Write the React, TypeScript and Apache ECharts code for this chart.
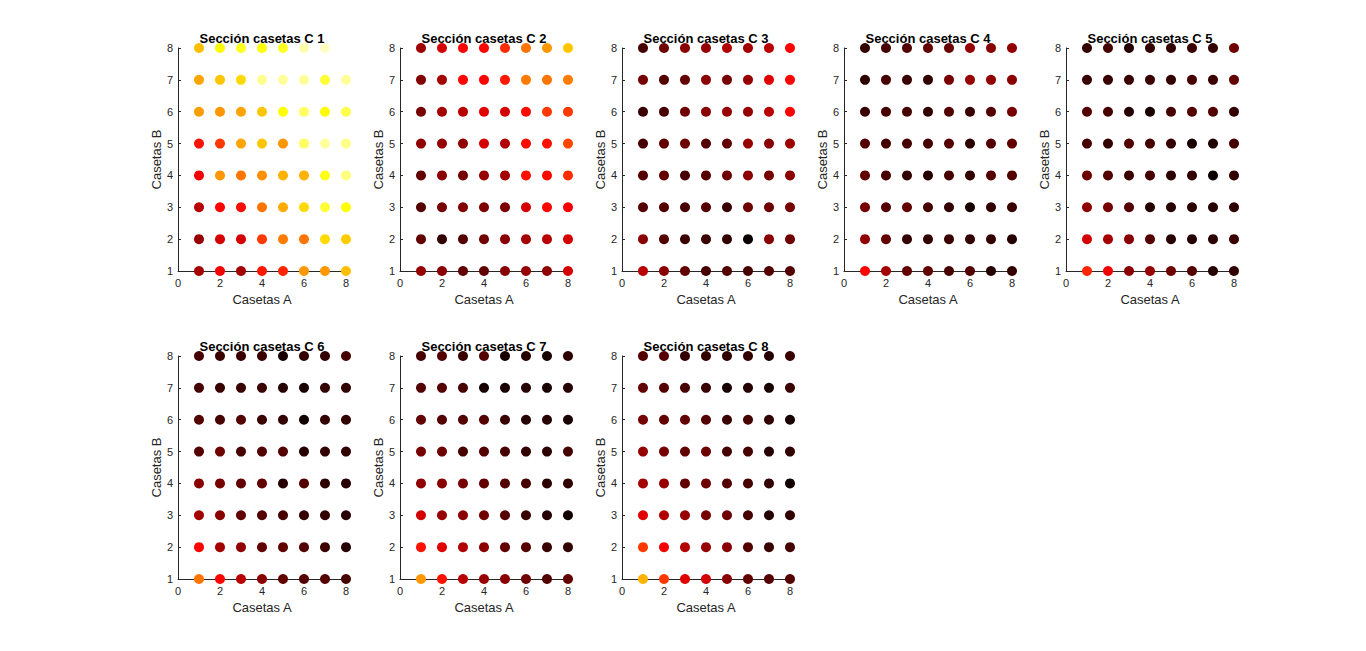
import React, { useEffect, useRef } from "react";
import * as echarts from "echarts";

// Values on a 0–100 scale mapped through the "hot" colormap.
// Each section: rows from Casetas B = 8 (top) down to 1, columns Casetas A = 1..8.
const casetasA = [1, 2, 3, 4, 5, 6, 7, 8];
const casetasB = [8, 7, 6, 5, 4, 3, 2, 1];

const seccion1 = [
  [65, 74, 78, 75, 78, 92, 94, 100],
  [61, 66, 69, 89, 90, 90, 80, 90],
  [60, 59, 61, 66, 75, 84, 74, 82],
  [39, 45, 61, 66, 59, 84, 90, 88],
  [35, 59, 54, 58, 63, 63, 77, 87],
  [26, 37, 38, 54, 62, 69, 80, 75],
  [21, 30, 30, 45, 55, 54, 69, 67],
  [23, 35, 23, 40, 42, 59, 59, 65],
];
const seccion2 = [
  [22, 30, 37, 37, 43, 54, 59, 66],
  [18, 23, 37, 37, 40, 55, 54, 55],
  [16, 23, 26, 32, 30, 38, 45, 45],
  [20, 21, 20, 30, 25, 38, 39, 47],
  [13, 19, 16, 21, 23, 39, 38, 43],
  [11, 16, 18, 17, 17, 30, 37, 35],
  [13, 6, 11, 15, 19, 23, 26, 30],
  [21, 19, 13, 13, 19, 21, 20, 30],
];
const seccion3 = [
  [9, 15, 19, 21, 25, 23, 26, 37],
  [16, 11, 13, 19, 16, 21, 32, 37],
  [7, 9, 15, 19, 21, 21, 26, 37],
  [9, 13, 15, 11, 13, 21, 19, 22],
  [11, 13, 9, 11, 15, 19, 16, 19],
  [11, 11, 9, 11, 7, 15, 15, 16],
  [19, 11, 7, 7, 6, 0, 19, 15],
  [26, 19, 13, 9, 11, 9, 11, 11],
];
const seccion4 = [
  [6, 9, 11, 13, 14, 21, 19, 20],
  [5, 9, 7, 6, 16, 21, 20, 19],
  [7, 9, 9, 6, 11, 7, 11, 16],
  [11, 9, 9, 9, 11, 5, 11, 13],
  [13, 9, 6, 4, 9, 6, 11, 11],
  [16, 11, 13, 9, 6, 2, 6, 7],
  [20, 13, 6, 6, 7, 6, 6, 4],
  [37, 23, 13, 13, 9, 11, 4, 6],
];
const seccion5 = [
  [6, 9, 4, 6, 6, 7, 6, 15],
  [7, 7, 7, 7, 6, 9, 7, 13],
  [11, 9, 4, 2, 9, 11, 11, 6],
  [9, 6, 11, 9, 6, 2, 3, 9],
  [15, 11, 7, 9, 5, 6, 0, 6],
  [20, 16, 11, 4, 4, 5, 4, 5],
  [30, 23, 19, 11, 4, 4, 5, 7],
  [42, 35, 19, 21, 15, 11, 4, 6],
];
const seccion6 = [
  [9, 7, 7, 7, 2, 6, 6, 9],
  [9, 7, 7, 7, 4, 2, 6, 6],
  [11, 9, 11, 7, 6, 1, 6, 6],
  [11, 15, 9, 11, 11, 4, 6, 6],
  [19, 16, 13, 13, 4, 11, 5, 4],
  [23, 19, 13, 11, 9, 6, 6, 4],
  [37, 23, 20, 13, 13, 11, 7, 4],
  [54, 37, 26, 19, 13, 11, 11, 9],
];
const seccion7 = [
  [9, 11, 7, 11, 2, 4, 2, 5],
  [11, 11, 9, 2, 2, 4, 2, 4],
  [13, 11, 11, 11, 7, 4, 4, 2],
  [16, 15, 9, 11, 9, 6, 5, 9],
  [20, 19, 16, 13, 11, 9, 5, 6],
  [30, 21, 19, 15, 11, 7, 4, 1],
  [39, 32, 25, 19, 13, 11, 7, 6],
  [59, 39, 26, 21, 19, 15, 11, 13],
];
const seccion8 = [
  [11, 11, 6, 6, 6, 6, 4, 7],
  [13, 11, 9, 7, 2, 4, 2, 7],
  [16, 13, 13, 11, 7, 9, 6, 2],
  [21, 16, 13, 15, 9, 9, 4, 6],
  [23, 21, 13, 15, 11, 9, 6, 1],
  [32, 25, 21, 16, 15, 9, 4, 6],
  [45, 35, 25, 21, 19, 11, 7, 9],
  [63, 45, 32, 30, 19, 13, 11, 11],
];

const secciones = [seccion1, seccion2, seccion3, seccion4, seccion5, seccion6, seccion7, seccion8];
const titulos = secciones.map((_, i) => `Sección casetas C ${i + 1}`);

function hotColormap(m: number): string[] {
  const n = Math.floor((3 / 8) * m);
  const out: string[] = [];
  for (let i = 0; i < m; i++) {
    const r = i < n ? (i + 1) / n : 1;
    const g = i < n ? 0 : i < 2 * n ? (i - n + 1) / n : 1;
    const b = i < 2 * n ? 0 : (i - 2 * n + 1) / (m - 2 * n);
    const h = (v: number) => Math.round(v * 255).toString(16).padStart(2, "0");
    out.push(`#${h(r)}${h(g)}${h(b)}`);
  }
  return out;
}

const FONT = "Liberation Sans, Arial, Helvetica, sans-serif";

export default function App() {
  const ref = useRef<HTMLDivElement>(null);
  useEffect(() => {
    if (!ref.current) return;
    const chart = echarts.init(ref.current, undefined, { renderer: "svg" });
    const grids: any[] = [];
    const xAxes: any[] = [];
    const yAxes: any[] = [];
    const series: any[] = [];
    const titles: any[] = [];
    secciones.forEach((sec, k) => {
      const col = k % 5;
      const row = Math.floor(k / 5);
      const left = 178 + col * 222;
      const top = row === 0 ? 48 : 356;
      const width = 168;
      const height = 223;
      grids.push({ left, top, width, height });
      titles.push({
        text: titulos[k],
        left: left + width / 2,
        top: top - 16,
        textAlign: "center",
        padding: 0,
        textStyle: { fontFamily: FONT, fontSize: 13, fontWeight: "bold", color: "#000" },
      });
      xAxes.push({
        gridIndex: k,
        type: "value",
        min: 0,
        max: 8,
        interval: 2,
        name: "Casetas A",
        nameLocation: "middle",
        nameGap: 22,
        nameTextStyle: { fontFamily: FONT, fontSize: 13, color: "#262626" },
        axisLine: { show: true, lineStyle: { color: "#262626", width: 1 } },
        axisTick: { show: true, inside: true, length: 3, lineStyle: { color: "#262626" } },
        axisLabel: { fontFamily: FONT, fontSize: 11, color: "#262626", margin: 6 },
        splitLine: { show: false },
      });
      yAxes.push({
        gridIndex: k,
        type: "value",
        min: 1,
        max: 8,
        interval: 1,
        name: "Casetas B",
        nameLocation: "middle",
        nameGap: 14,
        nameTextStyle: { fontFamily: FONT, fontSize: 13, color: "#262626" },
        axisLine: { show: true, lineStyle: { color: "#262626", width: 1 } },
        axisTick: { show: true, inside: true, length: 3, lineStyle: { color: "#262626" } },
        axisLabel: { fontFamily: FONT, fontSize: 11, color: "#262626", margin: 5 },
        splitLine: { show: false },
      });
      const data: number[][] = [];
      casetasB.forEach((b, ri) => {
        casetasA.forEach((a, ci) => {
          data.push([a, b, sec[ri][ci]]);
        });
      });
      series.push({
        type: "scatter",
        xAxisIndex: k,
        yAxisIndex: k,
        symbolSize: 10,
        itemStyle: { opacity: 1 },
        data,
        silent: true,
      });
    });
    chart.setOption({
      animation: false,
      backgroundColor: "#ffffff",
      title: titles,
      grid: grids,
      xAxis: xAxes,
      yAxis: yAxes,
      visualMap: {
        type: "continuous",
        show: false,
        min: 0,
        max: 100,
        dimension: 2,
        inRange: { color: hotColormap(64), opacity: 1 },
      },
      series,
    });
    return () => chart.dispose();
  }, []);
  return (
    <div
      ref={ref}
      style={{ position: "absolute", left: 0, top: 0, width: 1366, height: 651 }}
    />
  );
}
